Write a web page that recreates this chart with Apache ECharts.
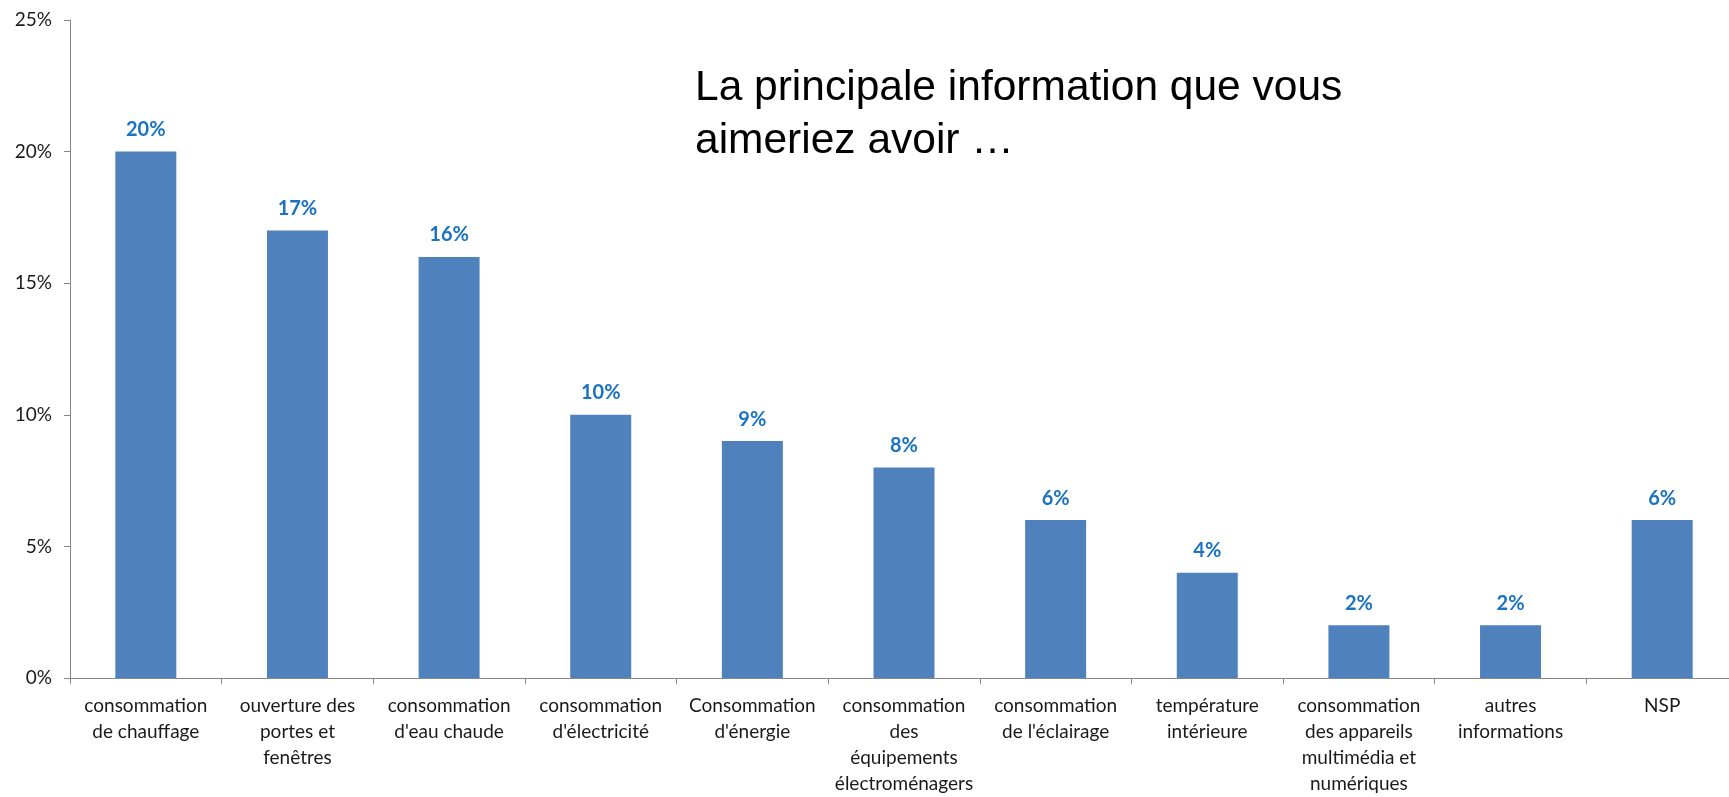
<!DOCTYPE html>
<html>
<head>
<meta charset="utf-8">
<script src="https://cdn.jsdelivr.net/npm/echarts@6/dist/echarts.min.js"></script>
<style>
  html, body { margin: 0; padding: 0; background: #fff; overflow: hidden; }
  /* the plot in the original runs slightly past the right edge */
  #chart { width: 1760px; height: 797px; }
</style>
</head>
<body>
<div id="chart"></div>
<script>
// categories (line breaks as in the original labels)
const categories = [
  "consommation\nde chauffage",
  "ouverture des\nportes et\nfenêtres",
  "consommation\nd'eau chaude",
  "consommation\nd'électricité",
  "Consommation\nd'énergie",
  "consommation\ndes\néquipements\nélectroménagers",
  "consommation\nde l'éclairage",
  "température\nintérieure",
  "consommation\ndes appareils\nmultimédia et\nnumériques",
  "autres\ninformations",
  "NSP"
];
const shares = [20, 17, 16, 10, 9, 8, 6, 4, 2, 2, 6];
const yTicks = [0, 5, 10, 15, 20, 25];
const titleText = "La principale information que vous\naimeriez avoir …";

const chart = echarts.init(document.getElementById('chart'));
chart.setOption({
  animation: false,
  title: {
    text: titleText,
    left: 690,
    top: 57,
    textStyle: {
      fontFamily: 'Liberation Sans',
      fontSize: 42.5,
      fontWeight: 'normal',
      lineHeight: 53,
      color: '#000'
    }
  },
  grid: { left: 70, top: 20, width: 1668, bottom: 117, containLabel: false },
  xAxis: {
    type: 'category',
    data: categories,
    axisLine: { lineStyle: { color: '#868686', width: 1 } },
    axisTick: { show: true, length: 6, lineStyle: { color: '#868686' } },
    axisLabel: {
      interval: 0,
      margin: 15,
      fontFamily: 'Lato',
      fontSize: 19,
      lineHeight: 26,
      color: '#1a1a1a'
    }
  },
  yAxis: {
    type: 'value',
    min: yTicks[0],
    max: yTicks[yTicks.length - 1],
    interval: 5,
    splitLine: { show: false },
    axisLine: { show: true, lineStyle: { color: '#868686', width: 1 } },
    axisTick: { show: true, length: 6, lineStyle: { color: '#868686' } },
    axisLabel: {
      formatter: '{value}%',
      margin: 18,
      fontFamily: 'Lato',
      fontSize: 19,
      color: '#1a1a1a'
    }
  },
  series: [{
    type: 'bar',
    data: shares,
    barWidth: 61,
    itemStyle: { color: '#4F81BD' },
    label: {
      show: true,
      position: 'top',
      distance: 12,
      formatter: '{c}%',
      fontFamily: 'Lato',
      fontWeight: 'bold',
      fontSize: 20,
      color: '#1a72c2'
    }
  }]
});
</script>
</body>
</html>
